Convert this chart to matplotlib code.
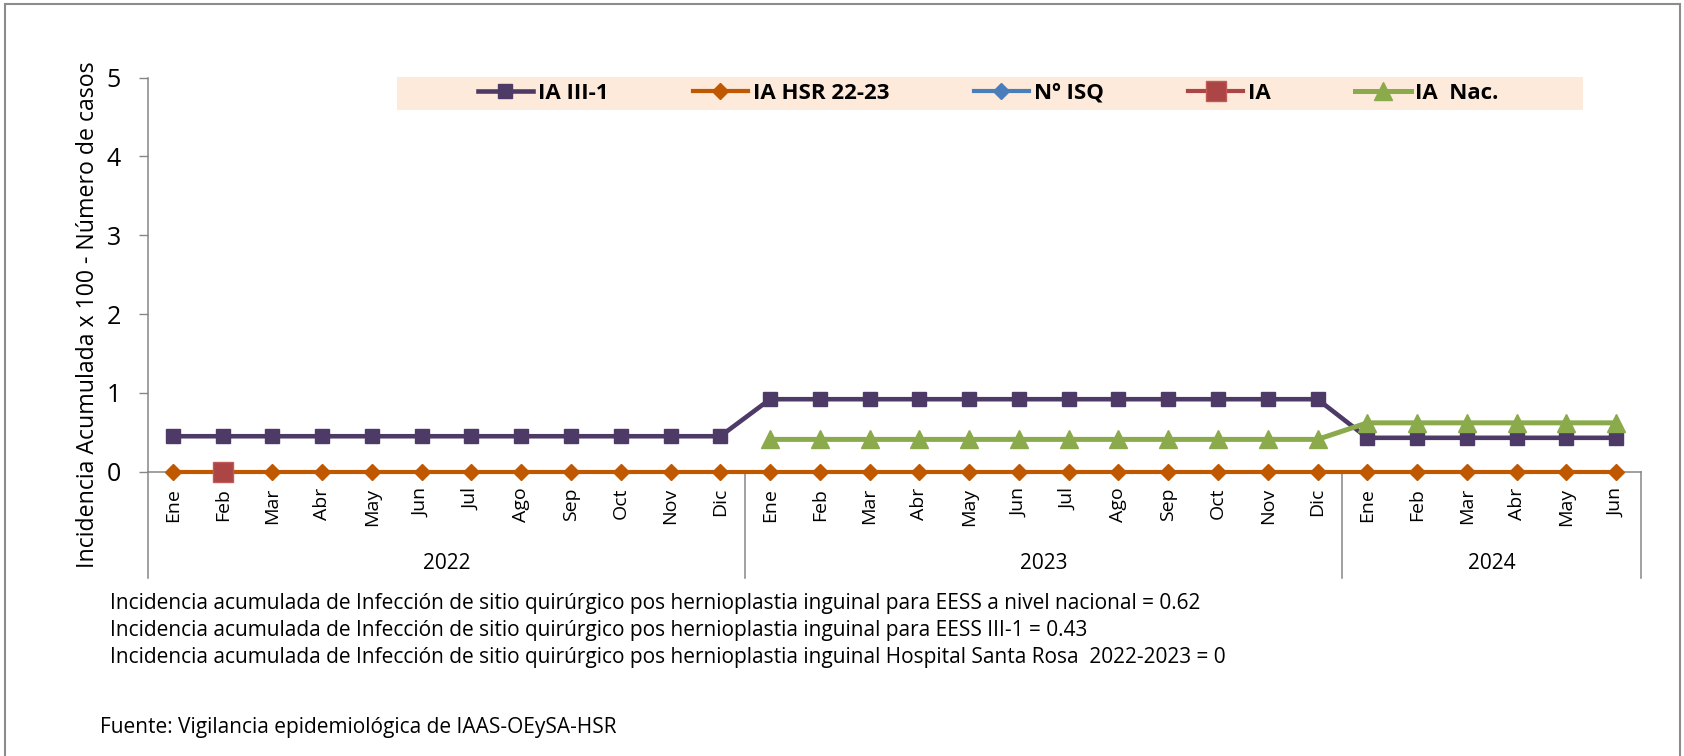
import numpy as np
import matplotlib
matplotlib.use("Agg")
import matplotlib.pyplot as plt
from matplotlib.patches import Rectangle

plt.rcParams['font.family'] = ['Open Sans', 'DejaVu Sans']

# ------------------------------
# Datos
# ------------------------------
meses_2022 = ['Ene', 'Feb', 'Mar', 'Abr', 'May', 'Jun', 'Jul', 'Ago', 'Sep', 'Oct', 'Nov', 'Dic']
meses_2023 = ['Ene', 'Feb', 'Mar', 'Abr', 'May', 'Jun', 'Jul', 'Ago', 'Sep', 'Oct', 'Nov', 'Dic']
meses_2024 = ['Ene', 'Feb', 'Mar', 'Abr', 'May', 'Jun']
anios = ['2022', '2023', '2024']

N = None
ia_iii1 = [0.45, 0.45, 0.45, 0.45, 0.45, 0.45, 0.45, 0.45, 0.45, 0.45, 0.45, 0.45,
           0.92, 0.92, 0.92, 0.92, 0.92, 0.92, 0.92, 0.92, 0.92, 0.92, 0.92, 0.92,
           0.43, 0.43, 0.43, 0.43, 0.43, 0.43]
ia_hsr = [0, 0, 0, 0, 0, 0, 0, 0, 0, 0, 0, 0,
          0, 0, 0, 0, 0, 0, 0, 0, 0, 0, 0, 0,
          0, 0, 0, 0, 0, 0]
n_isq = [N, N, N, N, N, N, N, N, N, N, N, N,
         N, N, N, N, N, N, N, N, N, N, N, N,
         N, N, N, N, N, N]
ia = [N, 0, N, N, N, N, N, N, N, N, N, N,
      N, N, N, N, N, N, N, N, N, N, N, N,
      N, N, N, N, N, N]
ia_nac = [N, N, N, N, N, N, N, N, N, N, N, N,
          0.41, 0.41, 0.41, 0.41, 0.41, 0.41, 0.41, 0.41, 0.41, 0.41, 0.41, 0.41,
          0.62, 0.62, 0.62, 0.62, 0.62, 0.62]

notas = [
    "Incidencia acumulada de Infección de sitio quirúrgico pos hernioplastia inguinal para EESS a nivel nacional = 0.62",
    "Incidencia acumulada de Infección de sitio quirúrgico pos hernioplastia inguinal para EESS III-1 = 0.43",
    "Incidencia acumulada de Infección de sitio quirúrgico pos hernioplastia inguinal Hospital Santa Rosa  2022-2023 = 0",
]
fuente = "Fuente: Vigilancia epidemiológica de IAAS-OEySA-HSR"


def serie(v):
    return np.array([np.nan if x is None else x for x in v], dtype=float)


# ------------------------------
# Figura
# ------------------------------
W, H = 1684, 756
fig = plt.figure(figsize=(W / 100, H / 100), dpi=100)
ax = fig.add_axes([148 / W, 1 - 471.7 / H, (1641 - 148) / W, (471.7 - 77.7) / H])

etiquetas = meses_2022 + meses_2023 + meses_2024
x = np.arange(len(etiquetas))
gris = '#868686'

ax.plot(x, serie(ia_iii1), color='#4E3A66', lw=3.3, marker='s', ms=10, label='IA III-1', zorder=3, clip_on=False)
ax.plot(x, serie(ia_hsr), color='#C05800', lw=3, marker='D', ms=8, label='IA HSR 22-23', zorder=3, clip_on=False)
ax.plot(x, serie(n_isq), color='#4A7EBB', lw=3, marker='D', ms=8, label='Nº ISQ', zorder=3, clip_on=False)
ax.plot(x, serie(ia), color='#AC4545', lw=3, marker='s', ms=14, mec='#C05B58', label='IA', zorder=4, clip_on=False)
ax.plot(x, serie(ia_nac), color='#8BAA4B', lw=3.6, marker='^', ms=13, label='IA  Nac.', zorder=5, clip_on=False)

ax.set_xlim(-0.5, len(etiquetas) - 0.5)
ax.set_ylim(0, 5)
ax.set_yticks([0, 1, 2, 3, 4, 5])
ax.set_xticks(x)
ax.set_xticklabels(etiquetas, rotation=90, fontsize=14)
ax.tick_params(axis='x', length=0, pad=11.5)
ax.tick_params(axis='y', direction='out', length=6.5, width=1, color=gris, labelsize=18, pad=13)

for s in ['top', 'right']:
    ax.spines[s].set_visible(False)
for s in ['left', 'bottom']:
    ax.spines[s].set_color(gris)
    ax.spines[s].set_linewidth(1.1)

# separadores de años y etiquetas de año
y_bajo = -1.35
limites = [-0.5, len(meses_2022) - 0.5, len(meses_2022) + len(meses_2023) - 0.5, len(etiquetas) - 0.5]
for xl in limites:
    ax.plot([xl, xl], [0, y_bajo], color=gris, lw=1.1, clip_on=False, zorder=1)
for i, a in enumerate(anios):
    ax.text((limites[i] + limites[i + 1]) / 2, -1.16, a, ha='center', va='center', fontsize=15)

ax.set_ylabel("Incidencia Acumulada x 100 - Número de casos", fontsize=16.7, va='center')
ax.yaxis.set_label_coords(-0.040, 0.398)

# leyenda
fig.patches.append(Rectangle((397 / W, 1 - 110 / H), (1583 - 397) / W, 33 / H,
                             transform=fig.transFigure, facecolor='#FDEADA', edgecolor='none', zorder=0))
leg = fig.legend(loc='center', bbox_to_anchor=(988 / W, 1 - 93.5 / H), ncol=5, frameon=False,
                 handlelength=2.5, handletextpad=0.2, columnspacing=3.8,
                 prop={'weight': 'bold', 'size': 16})

# notas al pie
for i, t in enumerate(notas):
    fig.text(110 / W, 1 - (604 + 26.8 * i) / H, t, ha='left', va='center', fontsize=15)
fig.text(100 / W, 1 - 727 / H, fuente, ha='left', va='center', fontsize=15)

# marco del gráfico
fig.patches.append(Rectangle((5 / W, -0.05), (1680 - 5) / W, 1.05 - 4 / H,
                             transform=fig.transFigure, fill=False, edgecolor='#8C8C8C', lw=1.5))

fig.savefig("out.png", dpi=100)
